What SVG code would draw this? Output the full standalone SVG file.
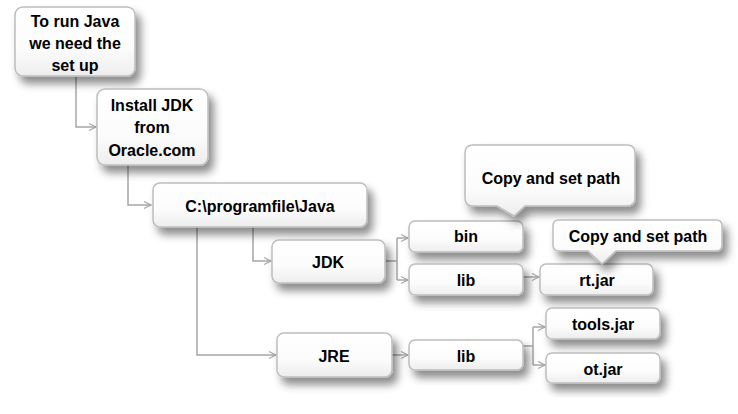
<svg xmlns="http://www.w3.org/2000/svg" width="738" height="414" viewBox="0 0 738 414">
<defs>
<linearGradient id="g" x1="0" y1="0" x2="0" y2="1">
<stop offset="0" stop-color="#ffffff"/>
<stop offset="0.6" stop-color="#fcfcfc"/>
<stop offset="1" stop-color="#ededed"/>
</linearGradient>
<filter id="sh" x="-20%" y="-20%" width="150%" height="170%">
<feDropShadow dx="5" dy="7" stdDeviation="4" flood-color="#000" flood-opacity="0.45"/>
</filter>
<marker id="ar" markerWidth="10" markerHeight="10" refX="8" refY="5" orient="auto" markerUnits="userSpaceOnUse">
<path d="M1,1.5 L8,5 L1,8.5" fill="none" stroke="#a6a6a6" stroke-width="1.2"/>
</marker>
</defs>
<style>
.b{fill:url(#g);stroke:#bdbdbd;stroke-width:1.5;filter:url(#sh)}
.t{font-family:"Liberation Sans",Arial,sans-serif;font-weight:bold;font-size:16px;fill:#000;text-anchor:middle}
.c{fill:none;stroke:#a6a6a6;stroke-width:1.5}
</style>
<rect width="738" height="414" fill="#fff"/>
<g id="connectors">
<path class="c" d="M76,76 V127 H96" marker-end="url(#ar)"/>
<path class="c" d="M128,165 V205 H151" marker-end="url(#ar)"/>
<path class="c" d="M253,227 V261 H271" marker-end="url(#ar)"/>
<path class="c" d="M197,227 V355 H276" marker-end="url(#ar)"/>
<path class="c" d="M385,261 H397"/>
<path class="c" d="M397,238 V280"/>
<path class="c" d="M397,238 H408" marker-end="url(#ar)"/>
<path class="c" d="M397,280 H408" marker-end="url(#ar)"/>
<path class="c" d="M523,277 H539" marker-end="url(#ar)"/>
<path class="c" d="M392,355 H408" marker-end="url(#ar)"/>
<path class="c" d="M523,346 H533"/>
<path class="c" d="M533,327 V365"/>
<path class="c" d="M533,327 H545" marker-end="url(#ar)"/>
<path class="c" d="M533,365 H545" marker-end="url(#ar)"/>
</g>
<g id="setup">
<rect class="b" x="15" y="7" width="120" height="69" rx="8"/>
<text class="t" x="75" y="27">To run Java</text>
<text class="t" x="75" y="49">we need the</text>
<text class="t" x="75" y="71">set up</text>
</g>
<g id="install">
<rect class="b" x="97" y="89" width="111" height="76" rx="8"/>
<text class="t" x="152" y="111">Install JDK</text>
<text class="t" x="152" y="133">from</text>
<text class="t" x="152" y="156">Oracle.com</text>
</g>
<g id="javadir">
<rect class="b" x="153" y="183" width="214" height="44" rx="7"/>
<text class="t" x="260" y="212">C:\programfile\Java</text>
</g>
<g id="jdk">
<rect class="b" x="272" y="240" width="113" height="43" rx="7"/>
<text class="t" x="328" y="268">JDK</text>
</g>
<g id="jre">
<rect class="b" x="277" y="333" width="115" height="44" rx="7"/>
<text class="t" x="334" y="362">JRE</text>
</g>
<g id="bin">
<rect class="b" x="409" y="221" width="114" height="31" rx="6"/>
<text class="t" x="466" y="242">bin</text>
</g>
<g id="lib1">
<rect class="b" x="409" y="264" width="114" height="31" rx="6"/>
<text class="t" x="466" y="286">lib</text>
</g>
<g id="rtjar">
<rect class="b" x="540" y="264" width="113" height="31" rx="6"/>
<text class="t" x="597" y="286">rt.jar</text>
</g>
<g id="lib2">
<rect class="b" x="409" y="340" width="114" height="30" rx="6"/>
<text class="t" x="466" y="362">lib</text>
</g>
<g id="toolsjar">
<rect class="b" x="546" y="308" width="114" height="31" rx="6"/>
<text class="t" x="603" y="330">tools.jar</text>
</g>
<g id="otjar">
<rect class="b" x="546" y="353" width="114" height="30" rx="6"/>
<text class="t" x="603" y="375">ot.jar</text>
</g>
<g id="callout1">
<path class="b" d="M473,145 H627 Q635,145 635,153 V198 Q635,206 627,206 H525 L514,216 L497,206 H473 Q465,206 465,198 V153 Q465,145 473,145 Z"/>
<text class="t" x="551" y="184">Copy and set path</text>
</g>
<g id="callout2">
<path class="b" d="M559,220 H716 Q722,220 722,226 V245 Q722,251 716,251 H616 L602,264 L588,251 H559 Q553,251 553,245 V226 Q553,220 559,220 Z"/>
<text class="t" x="638" y="242">Copy and set path</text>
</g>
</svg>
